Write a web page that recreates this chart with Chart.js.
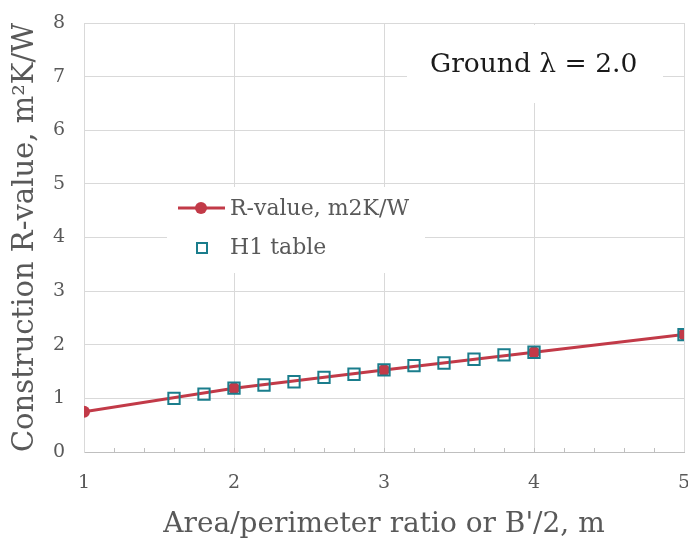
<!DOCTYPE html>
<html>
<head>
<meta charset="utf-8">
<script src="https://cdn.jsdelivr.net/npm/chart.js@4.4.0/dist/chart.umd.min.js"></script>
<style>
  html, body { margin: 0; padding: 0; overflow: hidden; background: #fff; }
  #wrap { width: 712px; height: 538px; }
</style>
</head>
<body>
<div id="wrap"><canvas id="chart" width="712" height="538"></canvas></div>
<script>
// R-value curve (calculated)
const rX = [1, 2, 3, 4, 5];
const rValues = [0.75, 1.19, 1.53, 1.86, 2.19];

// H1 table values
const h1X = [1.6, 1.8, 2.0, 2.2, 2.4, 2.6, 2.8, 3.0, 3.2, 3.4, 3.6, 3.8, 4.0, 5.0];
const h1Values = [1.00, 1.08, 1.19, 1.25, 1.31, 1.39, 1.45, 1.53, 1.61, 1.66, 1.73, 1.81, 1.86, 2.19];

const xTicks = [1, 2, 3, 4, 5];
const yTicks = [0, 1, 2, 3, 4, 5, 6, 7, 8];

const RED = "#c23a48";
const TEAL = "#1a7d8c";
const GREY_TEXT = "#595959";
const FONT = "'DejaVu Serif', 'Liberation Serif', serif";

// white boxes, legend and the "Ground" label drawn on top of the grid
const overlay = {
    id: "overlay",
    beforeDatasetsDraw(chart) {
        const ctx = chart.ctx;
        ctx.save();
        ctx.fillStyle = "#fff";
        ctx.fillRect(167, 187, 258, 86);   // legend box
        ctx.fillRect(407, 25, 256, 78);    // label box
        ctx.restore();
    },
    afterDraw(chart) {
        const ctx = chart.ctx;
        const x = chart.scales.x;
        ctx.save();

        // legend: R-value line + circle
        ctx.strokeStyle = RED;
        ctx.lineWidth = 3;
        ctx.beginPath();
        ctx.moveTo(178, 208);
        ctx.lineTo(225, 208);
        ctx.stroke();
        ctx.fillStyle = RED;
        ctx.beginPath();
        ctx.arc(201, 208, 6, 0, Math.PI * 2);
        ctx.fill();

        // legend: H1 square
        ctx.strokeStyle = TEAL;
        ctx.lineWidth = 2;
        ctx.strokeRect(197, 243, 10, 10);

        ctx.fillStyle = GREY_TEXT;
        ctx.font = "22px " + FONT;
        ctx.textBaseline = "middle";
        ctx.textAlign = "left";
        ctx.fillText("R-value, m2K/W", 230, 209);
        ctx.fillText("H1 table", 230, 248);

        ctx.fillStyle = "#1a1a1a";
        ctx.font = "26.5px " + FONT;
        ctx.fillText("Ground \u03bb = 2.0", 430, 65);

        // minor ticks on the x axis (every 0.2)
        const base = chart.scales.y.getPixelForValue(0);
        ctx.strokeStyle = "#bfbfbf";
        ctx.lineWidth = 1;
        for (let v = 1.2; v < 5; v += 0.2) {
            const px = Math.round(x.getPixelForValue(v)) + 0.5;
            ctx.beginPath();
            ctx.moveTo(px, base);
            ctx.lineTo(px, base - 4);
            ctx.stroke();
        }
        ctx.restore();
    }
};

new Chart(document.getElementById("chart"), {
    type: "scatter",
    data: {
        datasets: [
            {
                label: "R-value, m2K/W",
                data: rX.map((v, i) => ({ x: v, y: rValues[i] })),
                showLine: true,
                borderColor: RED,
                backgroundColor: RED,
                borderWidth: 3,
                pointRadius: 6,
                pointHoverRadius: 6,
                pointBorderWidth: 0,
                order: 2
            },
            {
                label: "H1 table",
                data: h1X.map((v, i) => ({ x: v, y: h1Values[i] })),
                showLine: false,
                pointStyle: "rect",
                pointRadius: 8,
                pointHoverRadius: 8,
                borderColor: TEAL,
                backgroundColor: "rgba(0,0,0,0)",
                pointBorderWidth: 2,
                order: 1
            }
        ]
    },
    options: {
        responsive: false,
        animation: false,
        layout: { padding: { top: 23, right: 28, left: 0, bottom: 0 } },
        plugins: {
            legend: { display: false },
            tooltip: { enabled: false }
        },
        scales: {
            x: {
                type: "linear",
                min: 1,
                max: 5,
                afterBuildTicks: s => { s.ticks = xTicks.map(v => ({ value: v })); },
                afterFit: s => { s.height = 86; },
                grid: { color: "#d9d9d9", drawTicks: true, tickLength: 20, tickColor: "rgba(0,0,0,0)" },
                border: { color: "#bfbfbf" },
                ticks: { color: GREY_TEXT, padding: 0, font: { family: FONT, size: 19 } },
                title: {
                    display: true,
                    text: "Area/perimeter ratio or B'/2, m",
                    color: GREY_TEXT,
                    font: { family: FONT, size: 28 },
                    padding: { top: 0, bottom: -4 }
                }
            },
            y: {
                min: 0,
                max: 8,
                afterBuildTicks: s => { s.ticks = yTicks.map(v => ({ value: v })); },
                afterFit: s => { s.width = 84; },
                grid: { color: "#d9d9d9", drawTicks: true, tickLength: 19, tickColor: "rgba(0,0,0,0)" },
                border: { color: "#d9d9d9" },
                ticks: { color: GREY_TEXT, padding: 0, font: { family: FONT, size: 19 } },
                title: {
                    display: true,
                    text: "Construction R-value, m\u00b2K/W",
                    color: GREY_TEXT,
                    font: { family: FONT, size: 29 },
                    padding: { top: 8, bottom: 0 }
                }
            }
        }
    },
    plugins: [overlay]
});
</script>
</body>
</html>
